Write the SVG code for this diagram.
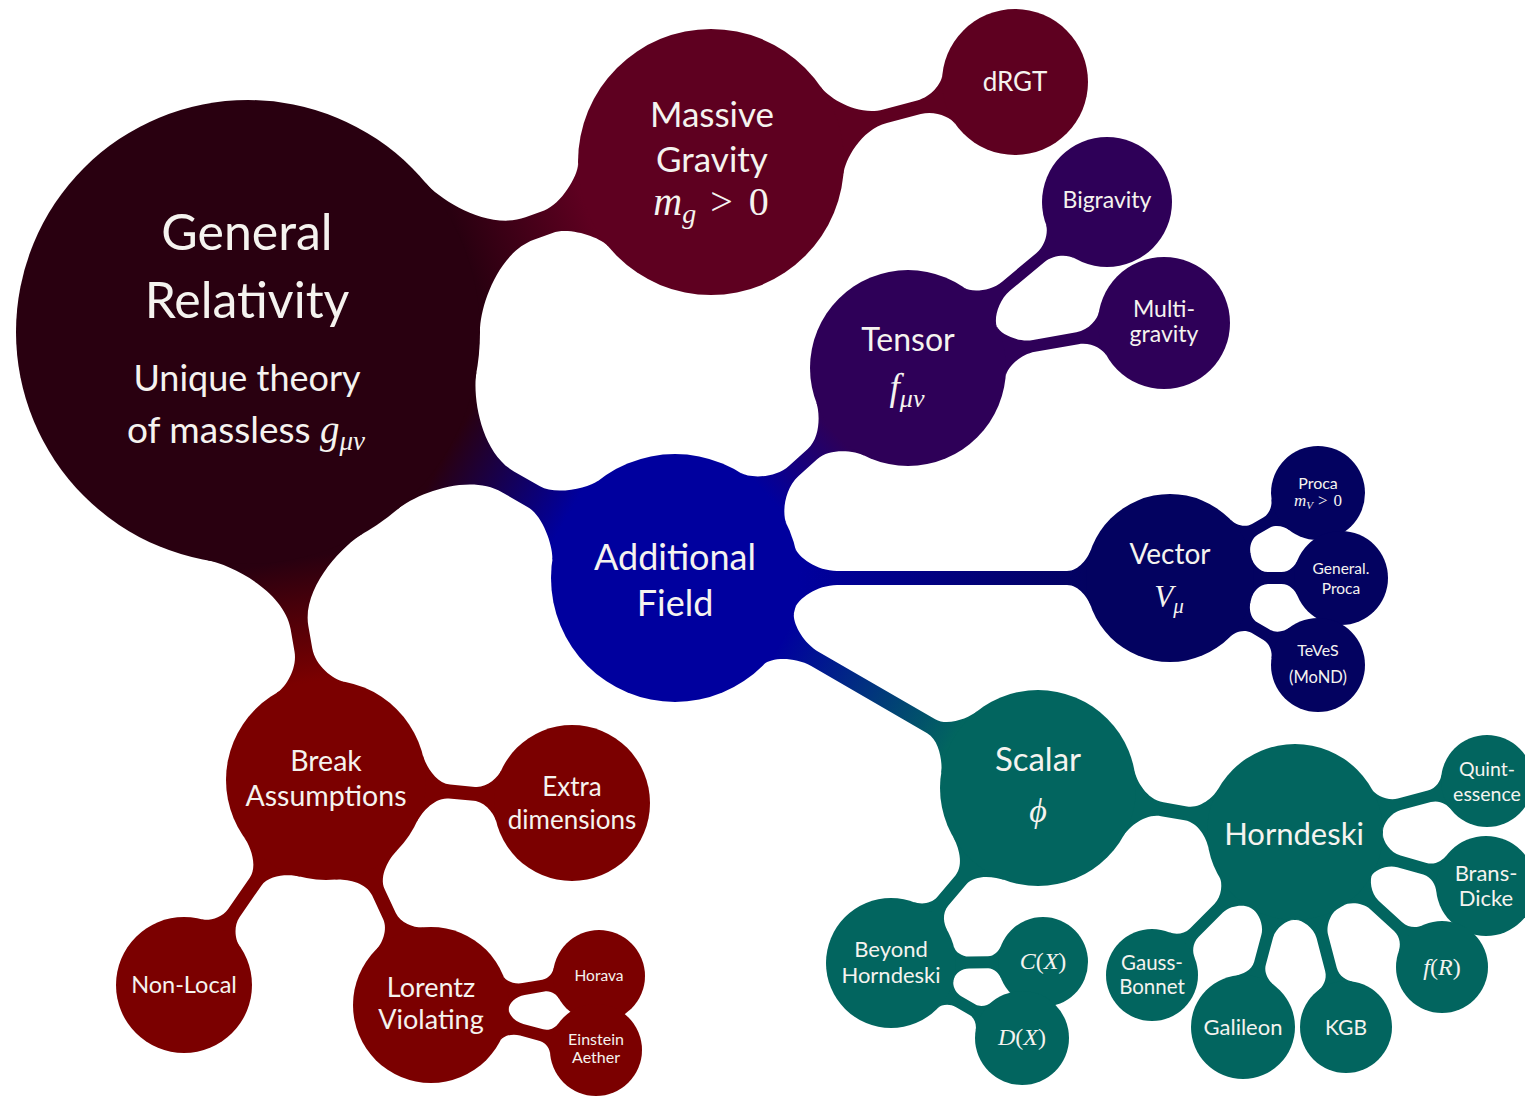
<svg xmlns="http://www.w3.org/2000/svg" width="1525" height="1096" viewBox="0 0 1525 1096">
<style>
text{font-family:Lato,"Open Sans","Liberation Sans",sans-serif;fill:#f5f3ef;text-anchor:middle}
.m{font-family:"Liberation Serif","DejaVu Serif",serif;font-style:italic}
.u{font-style:normal}
.gr{fill:#290010}.mg{fill:#5e0020}.af{fill:#00009e}.te{fill:#2e0058}.ve{fill:#030260}.sc{fill:#02655f}.ba{fill:#7b0000}
</style>
<defs>
<linearGradient id="gMG" gradientUnits="userSpaceOnUse" x1="232" y1="0" x2="360" y2="0"><stop offset="0" stop-color="#290010"/><stop offset="1" stop-color="#5e0020"/></linearGradient>
<linearGradient id="gAF" gradientUnits="userSpaceOnUse" x1="232" y1="0" x2="369" y2="0"><stop offset="0" stop-color="#290010"/><stop offset="1" stop-color="#00009e"/></linearGradient>
<linearGradient id="gBA" gradientUnits="userSpaceOnUse" x1="232" y1="0" x2="355" y2="0"><stop offset="0" stop-color="#290010"/><stop offset="1" stop-color="#7b0000"/></linearGradient>
<linearGradient id="gT" gradientUnits="userSpaceOnUse" x1="124" y1="0" x2="216" y2="0"><stop offset="0" stop-color="#00009e"/><stop offset="1" stop-color="#2e0058"/></linearGradient>
<linearGradient id="gV" gradientUnits="userSpaceOnUse" x1="124" y1="0" x2="411" y2="0"><stop offset="0" stop-color="#00009e"/><stop offset="1" stop-color="#030260"/></linearGradient>
<linearGradient id="gS" gradientUnits="userSpaceOnUse" x1="124" y1="0" x2="321" y2="0"><stop offset="0" stop-color="#00009e"/><stop offset="1" stop-color="#02655f"/></linearGradient>
</defs>
<g id="connectors">
<path transform="translate(248,332) rotate(-20.16)" fill="url(#gMG)" d="M218,-79.3 C226.6,-55.8 262,-12 300,-12 L320,-12 C338,-12 363.7,-32.7 367.7,-44 L367.7,44 C363.7,32.7 338,12 320,12 L300,12 C262,12 226.6,55.8 218,79.3 Z"/>
<path transform="translate(248,332) rotate(29.95)" fill="url(#gAF)" d="M218,-79.3 C226.6,-55.8 262,-12 300,-12 L330,-12 C348,-12 373.1,-34.9 377.6,-46 L377.6,46 C373.1,34.9 348,12 330,12 L300,12 C262,12 226.6,55.8 218,79.3 Z"/>
<path transform="translate(248,332) rotate(80.12)" fill="url(#gBA)" d="M218,-79.3 C226.6,-55.8 262,-9 300,-9 L322.7,-9 C340.7,-9 357.3,-24.6 360.7,-34 L360.7,34 C357.3,24.6 340.7,9 322.7,9 L300,9 C262,9 226.6,55.8 218,79.3 Z"/>
<path transform="translate(711,162) rotate(-14.74)" class="mg" d="M125,-45.5 C129.8,-32.3 153,-7 180,-7 L215,-7 C230,-7 243,-17.5 245.7,-25 L245.7,25 C243,17.5 230,7 215,7 L180,7 C153,7 129.8,32.3 125,45.5 Z"/>
<path transform="translate(675,578) rotate(-42.03)" fill="url(#gT)" d="M119.2,-34.2 C122,-24.6 140,-7 160,-7 L185,-7 C203,-7 218.9,-26.7 222.6,-36 L222.6,36 C218.9,26.7 203,7 185,7 L160,7 C140,7 122,24.6 119.2,34.2 Z"/>
<path transform="translate(675,578)" fill="url(#gV)" d="M120.3,-30 C122.5,-21.3 142,-7 162,-7 L392,-7 C404,-7 413.1,-20.5 415.8,-28 L415.8,28 C413.1,20.5 404,7 392,7 L162,7 C142,7 122.5,21.3 120.3,30 Z"/>
<path transform="translate(675,578) rotate(30.05)" fill="url(#gS)" d="M120.3,-30 C122.5,-21.3 142,-8 162,-8 L296,-8 C311,-8 324.6,-26.7 328.3,-36 L328.3,36 C324.6,26.7 311,8 296,8 L162,8 C142,8 122.5,21.3 120.3,30 Z"/>
<path transform="translate(908,368) rotate(-39.83)" class="te" d="M94.7,-25.4 C96.8,-17.7 112,-6 128,-6 L172,-6 C185,-6 195.5,-15.4 197.9,-22 L197.9,22 C195.5,15.4 185,6 172,6 L128,6 C112,6 96.8,17.7 94.7,25.4 Z"/>
<path transform="translate(908,368) rotate(-9.97)" class="te" d="M94.7,-25.4 C96.8,-17.7 112,-6 128,-6 L172,-6 C185,-6 195.3,-15.4 197.7,-22 L197.7,22 C195.3,15.4 185,6 172,6 L128,6 C112,6 96.8,17.7 94.7,25.4 Z"/>
<path transform="translate(1170,578) rotate(-29.87)" class="ve" d="M81.5,-20.3 C83,-14.5 89,-6 98,-6 L111,-6 C119,-6 125,-12.5 127.3,-18 L127.3,18 C125,12.5 119,6 111,6 L98,6 C89,6 83,14.5 81.5,20.3 Z"/>
<path transform="translate(1170,578)" class="ve" d="M81.5,-20.3 C83,-14.5 89,-6 98,-6 L111.5,-6 C119.5,-6 125.3,-12.5 127.6,-18 L127.6,18 C125.3,12.5 119.5,6 111.5,6 L98,6 C89,6 83,14.5 81.5,20.3 Z"/>
<path transform="translate(1170,578) rotate(30.45)" class="ve" d="M81.5,-20.3 C83,-14.5 89,-6 98,-6 L112,-6 C120,-6 126,-12.5 128.3,-18 L128.3,18 C126,12.5 120,6 112,6 L98,6 C89,6 83,14.5 81.5,20.3 Z"/>
<path transform="translate(1038,788) rotate(9.72)" class="sc" d="M92.1,-33.5 C95.5,-24.1 109,-7 126,-7 L150,-7 C164,-7 174.9,-21.5 178,-30 L178,30 C174.9,21.5 164,7 150,7 L126,7 C109,7 95.5,24.1 92.1,33.5 Z"/>
<path transform="translate(1038,788) rotate(130.03)" class="sc" d="M92.1,-33.5 C95.5,-24.1 106,-7 120,-7 L148,-7 C158,-7 164.9,-15.4 167.3,-22 L167.3,22 C164.9,15.4 158,7 148,7 L120,7 C106,7 95.5,24.1 92.1,33.5 Z"/>
<path transform="translate(1295,832) rotate(-14.88)" class="sc" d="M85.4,-21.3 C86.9,-15.5 97,-6 108,-6 L139,-6 C148,-6 154.1,-12.5 156.4,-18 L156.4,18 C154.1,12.5 148,6 139,6 L108,6 C97,6 86.9,15.5 85.4,21.3 Z"/>
<path transform="translate(1295,832) rotate(15.79)" class="sc" d="M85.4,-21.3 C86.9,-15.5 97,-6 108,-6 L135,-6 C144,-6 150,-13.5 152.3,-19 L152.3,19 C150,13.5 144,6 135,6 L108,6 C97,6 86.9,15.5 85.4,21.3 Z"/>
<path transform="translate(1295,832) rotate(42.56)" class="sc" d="M85.4,-21.3 C86.9,-15.5 97,-6 108,-6 L140,-6 C149,-6 155,-12.5 157.3,-18 L157.3,18 C155,12.5 149,6 140,6 L108,6 C97,6 86.9,15.5 85.4,21.3 Z"/>
<path transform="translate(1295,832) rotate(75.34)" class="sc" d="M85.4,-21.3 C86.9,-15.5 97,-6 108,-6 L142,-6 C151,-6 157,-12.5 159.3,-18 L159.3,18 C157,12.5 151,6 142,6 L108,6 C97,6 86.9,15.5 85.4,21.3 Z"/>
<path transform="translate(1295,832) rotate(104.93)" class="sc" d="M85.4,-21.3 C86.9,-15.5 97,-6 108,-6 L136,-6 C145,-6 151.5,-14.5 153.8,-20 L153.8,20 C151.5,14.5 145,6 136,6 L108,6 C97,6 86.9,15.5 85.4,21.3 Z"/>
<path transform="translate(1295,832) rotate(135)" class="sc" d="M85.4,-21.3 C86.9,-15.5 97,-6 108,-6 L142.5,-6 C151.5,-6 157.6,-12.5 159.9,-18 L159.9,18 C157.6,12.5 151.5,6 142.5,6 L108,6 C97,6 86.9,15.5 85.4,21.3 Z"/>
<path transform="translate(891,963) rotate(-0.38)" class="sc" d="M63.1,-15.7 C64.3,-10.9 71,-6 78,-6 L97,-6 C103,-6 108.1,-11.3 109.9,-16 L109.9,16 C108.1,11.3 103,6 97,6 L78,6 C71,6 64.3,10.9 63.1,15.7 Z"/>
<path transform="translate(891,963) rotate(29.79)" class="sc" d="M63.1,-15.7 C64.3,-10.9 71,-6 78,-6 L94,-6 C100,-6 105.1,-11.3 106.8,-16 L106.8,16 C105.1,11.3 100,6 94,6 L78,6 C71,6 64.3,10.9 63.1,15.7 Z"/>
<path transform="translate(326,780) rotate(5.34)" class="ba" d="M94,-34.2 C97.4,-24.8 109,-7 124,-7 L149,-7 C161,-7 170.9,-18.5 173.6,-26 L173.6,26 C170.9,18.5 161,7 149,7 L124,7 C109,7 97.4,24.8 94,34.2 Z"/>
<path transform="translate(326,780) rotate(124.71)" class="ba" d="M94,-34.2 C97.4,-24.8 109,-7 124,-7 L162,-7 C173,-7 183,-16.4 185.4,-23 L185.4,23 C183,16.4 173,7 162,7 L124,7 C109,7 97.4,24.8 94,34.2 Z"/>
<path transform="translate(326,780) rotate(64.98)" class="ba" d="M94,-34.2 C97.4,-24.8 109,-7 124,-7 L150,-7 C162,-7 172.1,-18.5 174.8,-26 L174.8,26 C172.1,18.5 162,7 150,7 L124,7 C109,7 97.4,24.8 94,34.2 Z"/>
<path transform="translate(431,1005) rotate(-9.79)" class="ba" d="M76.3,-16.2 C77.3,-11.3 85,-6 94,-6 L114,-6 C121,-6 125.7,-11.3 127.4,-16 L127.4,16 C125.7,11.3 121,6 114,6 L94,6 C85,6 77.3,11.3 76.3,16.2 Z"/>
<path transform="translate(431,1005) rotate(15.26)" class="ba" d="M76.3,-16.2 C77.3,-11.3 85,-6 94,-6 L114.5,-6 C121.5,-6 126.2,-11.3 127.9,-16 L127.9,16 C126.2,11.3 121.5,6 114.5,6 L94,6 C85,6 77.3,11.3 76.3,16.2 Z"/>
</g>
<g id="general-relativity"><circle class="gr" cx="248" cy="332" r="232"/>
<text x="247" y="250" font-size="50">General</text>
<text x="247" y="318" font-size="50">Relativity</text>
<text x="247" y="391" font-size="36">Unique theory</text>
<text x="246" y="443" font-size="37">of massless <tspan class="m" font-size="39">g</tspan><tspan class="m" font-size="27" dy="7">μν</tspan></text></g>
<g id="massive-gravity"><circle class="mg" cx="711" cy="162" r="133"/>
<text x="712" y="127" font-size="35">Massive</text>
<text x="712" y="172" font-size="35">Gravity</text>
<text x="711" y="215" class="m" font-size="40">m<tspan font-size="28" dy="8">g</tspan><tspan class="u" dx="14" dy="-8">&gt;</tspan><tspan class="u" dx="16">0</tspan></text></g>
<g id="drgt"><circle class="mg" cx="1015" cy="82" r="73"/>
<text x="1015" y="91" font-size="26">dRGT</text></g>
<g id="additional-field"><circle class="af" cx="675" cy="578" r="124"/>
<text x="675" y="570" font-size="36">Additional</text>
<text x="675" y="616" font-size="36">Field</text></g>
<g id="tensor"><circle class="te" cx="908" cy="368" r="98"/>
<text x="908" y="351" font-size="32">Tensor</text>
<text x="907" y="400" class="m" font-size="37">f<tspan font-size="26" dy="7">μν</tspan></text></g>
<g id="bigravity"><circle class="te" cx="1107" cy="202" r="65"/>
<text x="1107" y="208" font-size="23">Bigravity</text></g>
<g id="multigravity"><circle class="te" cx="1164" cy="323" r="66"/>
<text x="1164" y="317" font-size="23">Multi-</text>
<text x="1164" y="342" font-size="23">gravity</text></g>
<g id="vector"><circle class="ve" cx="1170" cy="578" r="84"/>
<text x="1170" y="564" font-size="28">Vector</text>
<text x="1169" y="607" class="m" font-size="31">V<tspan font-size="21" dy="6">μ</tspan></text></g>
<g id="proca"><circle class="ve" cx="1318" cy="493" r="47"/>
<text x="1318" y="489" font-size="16">Proca</text>
<text x="1318" y="506" class="m" font-size="17">m<tspan font-size="11" dy="3">V</tspan><tspan class="u" dx="5" dy="-3">&gt;</tspan><tspan class="u" dx="6">0</tspan></text></g>
<g id="general-proca"><circle class="ve" cx="1341" cy="578" r="47"/>
<text x="1341" y="574" font-size="15.5">General.</text>
<text x="1341" y="594" font-size="15.5">Proca</text></g>
<g id="teves"><circle class="ve" cx="1318" cy="665" r="47"/>
<text x="1318" y="656" font-size="16">TeVeS</text>
<text x="1318" y="683" font-size="16.5">(MoND)</text></g>
<g id="scalar"><circle class="sc" cx="1038" cy="788" r="98"/>
<text x="1038" y="771" font-size="33">Scalar</text>
<text x="1038" y="822" class="m" font-size="34">ϕ</text></g>
<g id="horndeski"><circle class="sc" cx="1295" cy="832" r="88"/>
<text x="1294" y="845" font-size="31">Horndeski</text></g>
<g id="quintessence"><circle class="sc" cx="1487" cy="781" r="46"/>
<text x="1487" y="776" font-size="19.5">Quint-</text>
<text x="1487" y="801" font-size="19.5">essence</text></g>
<g id="brans-dicke"><circle class="sc" cx="1486" cy="886" r="50"/>
<text x="1486" y="881" font-size="22">Brans-</text>
<text x="1486" y="906" font-size="22">Dicke</text></g>
<g id="f-r"><circle class="sc" cx="1442" cy="967" r="46"/>
<text x="1442" y="975" class="m" font-size="24">f<tspan class="u">(</tspan>R<tspan class="u">)</tspan></text></g>
<g id="kgb"><circle class="sc" cx="1346" cy="1027" r="46"/>
<text x="1346" y="1035" font-size="21">KGB</text></g>
<g id="galileon"><circle class="sc" cx="1243" cy="1027" r="52"/>
<text x="1243" y="1035" font-size="22">Galileon</text></g>
<g id="gauss-bonnet"><circle class="sc" cx="1152" cy="975" r="46"/>
<text x="1152" y="970" font-size="20.5">Gauss-</text>
<text x="1152" y="994" font-size="20.5">Bonnet</text></g>
<g id="beyond-horndeski"><circle class="sc" cx="891" cy="963" r="65"/>
<text x="891" y="957" font-size="22">Beyond</text>
<text x="891" y="983" font-size="22">Horndeski</text></g>
<g id="c-x"><circle class="sc" cx="1043" cy="962" r="45"/>
<text x="1043" y="969" class="m" font-size="24">C<tspan class="u">(</tspan>X<tspan class="u">)</tspan></text></g>
<g id="d-x"><circle class="sc" cx="1022" cy="1038" r="47"/>
<text x="1022" y="1045" class="m" font-size="24">D<tspan class="u">(</tspan>X<tspan class="u">)</tspan></text></g>
<g id="break-assumptions"><circle class="ba" cx="326" cy="780" r="100"/>
<text x="326" y="771" font-size="28.5">Break</text>
<text x="326" y="806" font-size="28.5">Assumptions</text></g>
<g id="extra-dimensions"><circle class="ba" cx="572" cy="803" r="78"/>
<text x="572" y="796" font-size="26">Extra</text>
<text x="572" y="829" font-size="26">dimensions</text></g>
<g id="non-local"><circle class="ba" cx="184" cy="985" r="68"/>
<text x="184" y="993" font-size="23.5">Non-Local</text></g>
<g id="lorentz-violating"><circle class="ba" cx="431" cy="1005" r="78"/>
<text x="431" y="997" font-size="27">Lorentz</text>
<text x="431" y="1029" font-size="27">Violating</text></g>
<g id="horava"><circle class="ba" cx="599" cy="976" r="46"/>
<text x="599" y="981" font-size="15.5">Horava</text></g>
<g id="einstein-aether"><circle class="ba" cx="596" cy="1050" r="46"/>
<text x="596" y="1045" font-size="16">Einstein</text>
<text x="596" y="1063" font-size="16">Aether</text></g>
</svg>
